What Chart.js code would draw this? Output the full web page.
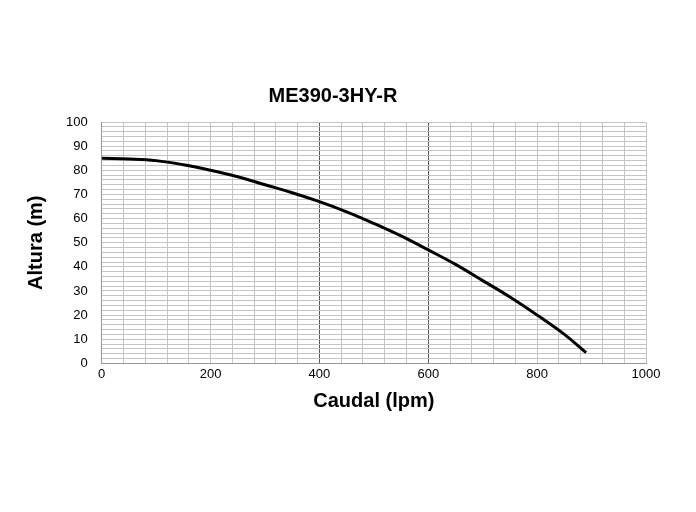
<!DOCTYPE html>
<html>
<head>
<meta charset="UTF-8">
<script src="https://cdn.jsdelivr.net/npm/chart.js"></script>
<style>body{margin:0;background:#fff}#wrap{width:696px;height:512px}</style>
</head>
<body>
<div id="wrap"><canvas id="c"></canvas></div>
<script>
const caudal = [0, 50, 100, 150, 200, 250, 300, 350, 400, 450, 500, 550, 600, 650, 700, 750, 800, 850, 890];
const altura = [85, 84.7, 84, 82.3, 80, 77.3, 74, 70.7, 67, 62.8, 58, 52.8, 47, 41, 34.3, 27.5, 20, 12, 4.5];

new Chart(document.getElementById('c'), {
    type: 'scatter',
    data: {
        datasets: [{
            data: caudal.map((x, i) => ({ x: x, y: altura[i] })),
            showLine: true,
            borderColor: '#000',
            borderWidth: 3,
            pointRadius: 0,
            tension: 0.4
        }]
    },
    options: {
        responsive: true,
        maintainAspectRatio: false,
        animation: false,
        layout: { padding: { left: 20, right: 50, top: 84, bottom: 95 } },
        plugins: {
            legend: { display: false },
            tooltip: { enabled: false },
            title: {
                display: true, text: 'ME390-3HY-R', color: '#000',
                font: { family: 'Liberation Sans', size: 20, weight: 'bold' },
                padding: { bottom: 14 }
            }
        },
        scales: {
            x: {
                min: 0, max: 1000,
                ticks: {
                    stepSize: 40, autoSkip: false, maxRotation: 0, color: '#000',
                    font: { family: 'Liberation Sans', size: 13 },
                    callback: v => v % 200 === 0 ? v : ''
                },
                grid: { color: c => (c.tick.value === 400 || c.tick.value === 600) ? '#555' : '#c4c4c4', drawTicks: false },
                border: { color: '#999' },
                title: { display: true, text: 'Caudal (lpm)', color: '#000', font: { family: 'Liberation Sans', size: 20, weight: 'bold' } }
            },
            y: {
                min: 0, max: 100,
                ticks: {
                    stepSize: 2, autoSkip: false, color: '#000', padding: 14,
                    font: { family: 'Liberation Sans', size: 13 },
                    callback: v => v % 10 === 0 ? v : ''
                },
                grid: { color: '#c4c4c4', drawTicks: false },
                border: { color: '#999' },
                title: { display: true, text: 'Altura (m)', color: '#000', font: { family: 'Liberation Sans', size: 20, weight: 'bold' } }
            }
        }
    }
});
</script>
</body>
</html>
